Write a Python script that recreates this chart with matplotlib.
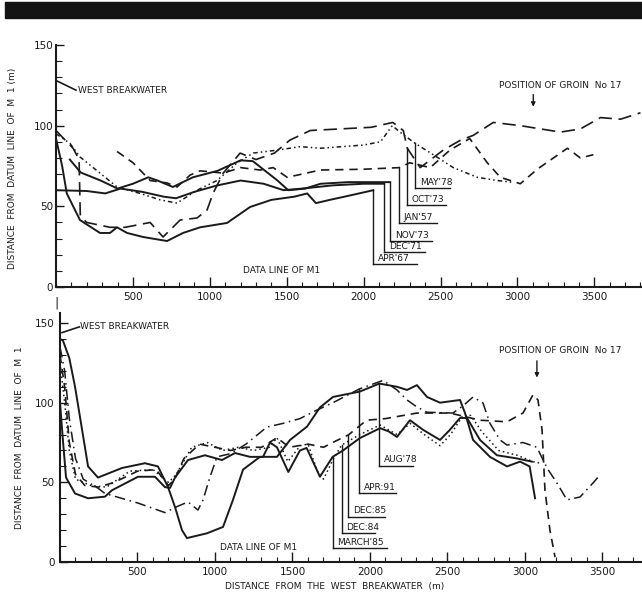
import matplotlib.pyplot as plt
from matplotlib.patches import Rectangle
from matplotlib.ticker import MultipleLocator

# ---- upper panel: shoreline positions 1957-1978 (m from datum line of M1) ----
top_apr67_x = [0, 40, 70, 156, 286, 351, 397, 462, 566, 722, 826, 937, 1112, 1262, 1400, 1550, 1633, 1690, 1780, 1900, 2063]
top_apr67_y = [92, 75, 58, 41.5, 33.5, 33.5, 37, 33.5, 31, 28.5, 33.5, 37, 39.7, 49.6, 54, 56, 58, 52, 54, 56.5, 60]

top_dec71_x = [0, 200, 320, 420, 560, 700, 780, 900, 1050, 1200, 1350, 1480, 1600, 1800, 2000, 2134]
top_dec71_y = [60, 59.5, 58, 61, 59, 56, 55, 59, 63, 66, 64, 60, 61, 63, 64, 64]

top_nov73_x = [90, 160, 290, 400, 500, 600, 660, 760, 890, 1050, 1200, 1280, 1440, 1510, 1620, 1720, 1900, 2173]
top_nov73_y = [79, 71, 66, 61, 64, 68, 66, 62, 68, 72, 78.5, 78, 66, 60, 61, 64, 65, 65]

top_jan57_x = [397, 501, 612, 722, 787, 872, 937, 1087, 1200, 1327, 1412, 1503, 1600, 1718, 2000, 2232,
               2300, 2433, 2563, 2690, 2804, 2889, 3019, 3129, 3325, 3409, 3494]
top_jan57_y = [84, 77, 66, 64.5, 62, 69.4, 72, 70.6, 74, 72.5, 74, 68, 70, 72.5, 73, 74,
               77, 74, 85, 92, 77, 68, 64, 73, 86, 80, 82]

top_oct73_x = [0, 111, 150, 158, 200, 351, 450, 612, 696, 807, 917, 982, 1021, 1087, 1197, 1300, 1420, 1520,
               1653, 1850, 2050, 2190, 2258, 2284, 2368, 2520, 2630, 2713, 2843, 3020, 3280, 3410, 3540, 3670, 3800]
top_oct73_y = [97, 86, 79, 44, 40, 37, 37, 40, 31, 41.5, 42.8, 47.7, 58, 70.6, 83, 79, 83, 91,
               97, 98, 99, 102, 97, 86, 74, 85, 91, 94, 102, 100, 96, 98, 105, 104, 108]

top_may78_x = [0, 91, 156, 286, 397, 547, 677, 787, 917, 1047, 1178, 1282, 1450, 1588, 1720, 2000, 2110,
               2186, 2250, 2336, 2453, 2583, 2739, 2869, 2960]
top_may78_y = [95, 89, 80.6, 70.6, 62, 58, 54, 52, 60, 66, 77, 83, 85, 87, 86, 88, 90,
               100, 95, 89, 82, 74, 68, 66, 65]

top_names = ["APR'67", "DEC'71", "NOV'73", "JAN'57", "OCT'73", "MAY'78"]
top_leader_x = [2063, 2134, 2173, 2232, 2284, 2336]
top_leader_top = [60, 64, 64.5, 74, 86, 89]
top_leader_y = [14.3, 21.7, 28.5, 39.7, 50.8, 61.4]
top_leader_end = [2349, 2401, 2446, 2479, 2537, 2563]

# ---- lower panel: shoreline positions 1978-1991 ----
bot_aug78_x = [0, 19, 60, 97, 161, 181, 245, 400, 548, 632, 697, 742, 787, 819, 948, 1052, 1116, 1181, 1290,
               1400, 1484, 1594, 1677, 1761, 1935, 2060, 2174, 2239, 2303, 2368, 2452, 2581, 2613, 2665, 2774,
               2884, 2968, 3030, 3065]
bot_aug78_y = [140, 139, 128, 110, 72, 60, 53, 59, 62, 60, 47, 34.5, 20, 15, 18, 22, 39, 58, 66,
               66, 76.6, 85, 97, 103.6, 107, 112, 110, 108, 111, 103.6, 100, 101.7, 93.5, 76.6, 66,
               60, 63, 60, 40]

bot_mar85_x = [0, 20, 39, 97, 181, 290, 335, 503, 613, 677, 710, 742, 826, 935, 1045, 1129, 1226, 1310, 1355,
               1400, 1473, 1548, 1591, 1656, 1677, 1759, 1826, 1935, 2065, 2120, 2174, 2258, 2342, 2452, 2516,
               2581, 2626, 2710, 2819, 2948, 3045]
bot_mar85_y = [100, 75, 53, 43, 40, 41, 45, 53.5, 53.5, 47, 46.5, 53, 64, 67, 64, 68.4, 66, 66, 75,
               72, 56.5, 70, 71.6, 58, 53.5, 66, 70, 77.8, 84, 82, 78.5, 89, 83, 76.6, 83,
               90.4, 90.4, 76.6, 67, 65, 63]

bot_dec84_x = [0, 30, 60, 100, 200, 300, 450, 600, 700, 750, 850, 950, 1050, 1150, 1250, 1350, 1400, 1470,
               1550, 1600, 1660, 1700, 1760, 1817, 1935, 2065, 2174, 2260, 2350, 2452, 2520, 2600, 2650, 2720,
               2830, 2950, 3050, 3100]
bot_dec84_y = [125, 100, 70, 52, 48, 47, 57, 58, 50, 55, 72, 75, 70, 72, 70, 72, 78, 63,
               73, 74, 57, 52, 64, 73.4, 80, 86, 80, 87, 80, 73, 80, 92, 92, 82,
               70, 67, 63, 62]

bot_dec85_x = [0, 30, 60, 100, 160, 250, 350, 500, 620, 700, 740, 800, 900, 1000, 1100, 1200, 1300, 1400,
               1480, 1600, 1700, 1780, 1860, 1978, 2100, 2303, 2516, 2710, 2884, 2987, 3052, 3084, 3110, 3129,
               3161, 3194]
bot_dec85_y = [130, 110, 75, 55, 48, 47, 50, 57, 58, 48, 52, 65, 74, 72, 70, 72, 72, 78,
               72, 74, 72, 76, 79.7, 89, 90, 93.5, 93.5, 89, 88, 93.5, 105, 101.7, 83, 45,
               20, 3]

bot_apr91_x = [0, 30, 60, 100, 150, 250, 290, 503, 677, 760, 826, 890, 923, 968, 1013, 1100, 1200, 1335,
               1439, 1548, 1650, 1761, 1931, 2084, 2174, 2239, 2303, 2368, 2535, 2600, 2665, 2729, 2774, 2839,
               2884, 2987, 3077, 3142, 3206, 3271, 3355, 3439, 3484]
bot_apr91_y = [135, 120, 90, 65, 52, 46, 43, 37, 31, 35, 37.7, 32.6, 39, 53.4, 66, 68, 74, 84.7,
               87, 90, 95, 100, 108.6, 114, 108, 101.7, 97.3, 94, 93.5, 98, 103.6, 99.8, 87, 76.6,
               73.4, 75, 72, 59, 49.6, 39, 40.8, 49.6, 54.6]

bot_names = ["AUG'78", "APR:91", "DEC:85", "DEC:84", "MARCH'85"]
bot_leader_x = [2060, 1931, 1860, 1817, 1759]
bot_leader_top = [112, 108.6, 79.7, 73.4, 66]
bot_leader_y = [60.5, 43, 28.5, 18.1, 8.6]
bot_leader_end = [2279, 2168, 2097, 2032, 2108]

INK = '#1a1a1a'
SOLID = '-'
DASH = (0, (5, 3.5))
LONGDASH = (0, (8, 4))
DASHDOT = (0, (7, 3, 1, 3))
DASHDOTDOT = (0, (3, 2, 1, 2, 1, 2))
DOTS = (0, (1, 2))

plt.rcParams['font.family'] = ['DejaVu Sans']

fig = plt.figure(figsize=(6.42, 5.94), dpi=100)
fig.patches.append(Rectangle((5 / 642, 1 - 18 / 594), 637 / 642, 16 / 594,
                             transform=fig.transFigure, color='#141414'))

ax1 = fig.add_axes([56 / 642, 1 - 287 / 594, 586 / 642, 242 / 594])
ax2 = fig.add_axes([60 / 642, 0.0539, 582 / 642, 248.5 / 594])


def style_axes(ax, xmax, ymax, ylab_pad):
    ax.set_xlim(0, xmax)
    ax.set_ylim(0, ymax)
    for s in ['top', 'right']:
        ax.spines[s].set_visible(False)
    for s in ['left', 'bottom']:
        ax.spines[s].set_linewidth(1.5)
        ax.spines[s].set_color(INK)
    ax.xaxis.set_major_locator(MultipleLocator(500))
    ax.xaxis.set_minor_locator(MultipleLocator(100))
    ax.yaxis.set_major_locator(MultipleLocator(50))
    ax.yaxis.set_minor_locator(MultipleLocator(10))
    ax.tick_params(which='both', direction='in', color=INK, labelcolor=INK, labelsize=7.5)
    ax.tick_params(axis='x', which='major', length=7, width=1, pad=3.5)
    ax.tick_params(axis='x', which='minor', length=3.5, width=0.8)
    ax.tick_params(axis='y', which='major', length=6, width=1, pad=ylab_pad)
    ax.tick_params(axis='y', which='minor', length=4, width=0.8)
    ax.set_xticks([500, 1000, 1500, 2000, 2500, 3000, 3500])
    ax.set_yticks([0, 50, 100, 150])


def draw_leaders(ax, names, xs, tops, ys, ends):
    for name, x, top, y, end in zip(names, xs, tops, ys, ends):
        ax.plot([x, x], [top, y], color=INK, lw=1.0)
        ax.plot([x, end], [y, y], color=INK, lw=1.0)
        ax.text(x + 30, y + 0.8, name, fontsize=6.5, ha='left', va='bottom', color=INK)


# upper panel
style_axes(ax1, 3810, 150, 2)
ax1.plot(top_apr67_x, top_apr67_y, color=INK, lw=1.4, ls=SOLID)
ax1.plot(top_dec71_x, top_dec71_y, color=INK, lw=1.4, ls=SOLID)
ax1.plot(top_nov73_x, top_nov73_y, color=INK, lw=1.4, ls=SOLID)
ax1.plot(top_jan57_x, top_jan57_y, color=INK, lw=1.2, ls=DASH)
ax1.plot(top_oct73_x, top_oct73_y, color=INK, lw=1.2, ls=LONGDASH)
ax1.plot(top_may78_x, top_may78_y, color=INK, lw=1.1, ls=DASHDOTDOT)
draw_leaders(ax1, top_names, top_leader_x, top_leader_top, top_leader_y, top_leader_end)

ax1.plot([0, 130], [128, 122], color=INK, lw=1.2)
ax1.text(143, 121.5, 'WEST BREAKWATER', fontsize=6.5, ha='left', va='center', color=INK)
ax1.text(3280, 125, 'POSITION OF GROIN  No 17', fontsize=6.5, ha='center', va='center', color=INK)
ax1.annotate('', xy=(3103, 110), xytext=(3103, 121),
             arrowprops=dict(arrowstyle='-|>', color=INK, lw=1, mutation_scale=6))
ax1.text(1217, 10.5, 'DATA LINE OF M1', fontsize=6.5, ha='left', va='center', color=INK)
ax1.text(0, -6, '|', fontsize=9, ha='center', va='top', color=INK, clip_on=False)

# lower panel
style_axes(ax2, 3755, 156, 4)
ax2.plot(bot_aug78_x, bot_aug78_y, color=INK, lw=1.4, ls=SOLID)
ax2.plot(bot_mar85_x, bot_mar85_y, color=INK, lw=1.4, ls=SOLID)
ax2.plot(bot_dec84_x, bot_dec84_y, color=INK, lw=1.1, ls=DOTS)
ax2.plot(bot_dec85_x, bot_dec85_y, color=INK, lw=1.2, ls=DASH)
ax2.plot(bot_apr91_x, bot_apr91_y, color=INK, lw=1.1, ls=DASHDOT)
draw_leaders(ax2, bot_names, bot_leader_x, bot_leader_top, bot_leader_y, bot_leader_end)

ax2.plot([13, 125], [144, 147.6], color=INK, lw=1.2)
ax2.text(129, 148, 'WEST BREAKWATER', fontsize=6.5, ha='left', va='center', color=INK)
ax2.text(3226, 132.5, 'POSITION OF GROIN  No 17', fontsize=6.5, ha='center', va='center', color=INK)
ax2.annotate('', xy=(3077, 114), xytext=(3077, 128),
             arrowprops=dict(arrowstyle='-|>', color=INK, lw=1, mutation_scale=6))
ax2.text(1032, 9, 'DATA LINE OF M1', fontsize=6.5, ha='left', va='center', color=INK)

fig.text(13 / 642, 1 - 168 / 594, 'DISTANCE  FROM  DATUM  LINE  OF  M  1 (m)', rotation=90,
         fontsize=6.5, ha='center', va='center', color=INK)
fig.text(20 / 642, 1 - 438 / 594, 'DISTANCE  FROM  DATUM  LINE  OF  M  1', rotation=90,
         fontsize=6.5, ha='center', va='center', color=INK)
fig.text(335 / 642, 1 - 586 / 594, 'DISTANCE  FROM  THE  WEST  BREAKWATER  (m)',
         fontsize=6.5, ha='center', va='center', color=INK)

fig.savefig('out.png', dpi=100)
